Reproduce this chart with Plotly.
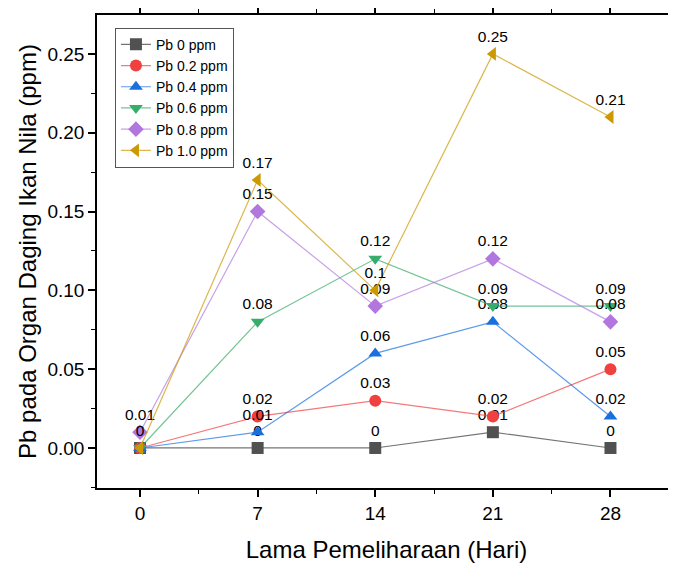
import plotly.graph_objects as go

days = [0, 7, 14, 21, 28]
series_names = ["Pb 0 ppm", "Pb 0.2 ppm", "Pb 0.4 ppm", "Pb 0.6 ppm", "Pb 0.8 ppm", "Pb 1.0 ppm"]
pb0 = [0, 0, 0, 0.01, 0]
pb02 = [0, 0.02, 0.03, 0.02, 0.05]
pb04 = [0, 0.01, 0.06, 0.08, 0.02]
pb06 = [0, 0.08, 0.12, 0.09, 0.09]
pb08 = [0.01, 0.15, 0.09, 0.12, 0.08]
pb10 = [0, 0.17, 0.1, 0.25, 0.21]
values = [pb0, pb02, pb04, pb06, pb08, pb10]

marker_colors = ["#515151", "#F14040", "#1A6FDF", "#37AD6B", "#B177DE", "#CC9900"]
line_colors = ["rgba(81,81,81,0.8)", "rgba(241,64,64,0.7)", "rgba(26,111,223,0.7)",
               "rgba(55,173,107,0.7)", "rgba(177,119,222,0.7)", "rgba(204,153,0,0.7)"]
symbols = ["square", "circle", "triangle-up", "triangle-down", "diamond", "triangle-left"]

fig = go.Figure()
for name, vals, mc, lc, sym in zip(series_names, values, marker_colors, line_colors, symbols):
    fig.add_trace(go.Scatter(
        x=days, y=vals, name=name, mode="lines+markers+text",
        line=dict(color=lc, width=1.2),
        marker=dict(symbol=sym, size=12, color=mc, line=dict(width=0)),
        text=["%g" % v for v in vals], textposition="top center",
        textfont=dict(family="Liberation Sans, Arial", size=15.5, color="black"),
    ))

# page body has an 8px margin, so the figure starts at (8, 8)
fig.update_layout(
    width=668, height=555,
    margin=dict(l=89, r=0, t=7, b=75),
    plot_bgcolor="white", paper_bgcolor="white",
    font=dict(family="Liberation Sans, Arial", color="black"),
    showlegend=True,
    legend=dict(x=0.031, y=0.973, xanchor="left", yanchor="top",
                bgcolor="white", bordercolor="#555555", borderwidth=1,
                font=dict(size=14), tracegroupgap=0, itemwidth=30),
    xaxis=dict(range=[-2.56, 31.9], tickvals=days, ticktext=[str(d) for d in days],
               automargin=False,
               showgrid=False, zeroline=False, showline=True, linecolor="black", linewidth=1.5,
               mirror="ticks", ticks="outside", ticklen=7, tickwidth=1.5, tickcolor="black",
               minor=dict(dtick=3.5, tick0=0, ticks="outside", ticklen=4, tickwidth=1.2, tickcolor="black"),
               tickfont=dict(size=19),
               title=dict(text="Lama Pemeliharaan (Hari)", font=dict(size=24), standoff=20)),
    yaxis=dict(range=[-0.0254, 0.2747], tickvals=[0, 0.05, 0.10, 0.15, 0.20, 0.25],
               ticktext=["0.00", "0.05", "0.10", "0.15", "0.20", "0.25"],
               automargin=False,
               showgrid=False, zeroline=False, showline=True, linecolor="black", linewidth=1.5,
               ticks="outside", ticklen=7, tickwidth=1.5, tickcolor="black",
               minor=dict(dtick=0.025, tick0=0, ticks="outside", ticklen=4, tickwidth=1.2, tickcolor="black"),
               tickfont=dict(size=19),
               title=dict(text="Pb pada Organ Daging Ikan Nila (ppm)", font=dict(size=24), standoff=4)),
)

fig.write_html("out.html")
